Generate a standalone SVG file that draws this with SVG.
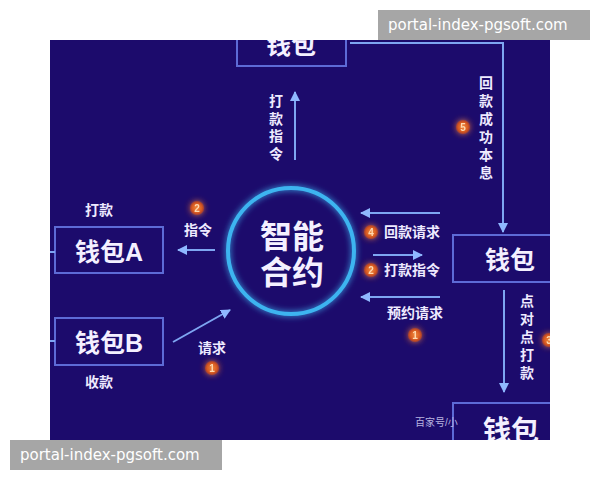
<svg xmlns="http://www.w3.org/2000/svg" width="600" height="480" viewBox="0 0 600 480">
<defs>
<style>
.bg{fill:#1c0b6c}
.box{fill:none;stroke:#5d6bd6;stroke-width:2}
.big{font-family:"Liberation Sans","Noto Sans CJK SC",sans-serif;fill:#f4f0ff;font-size:25px;font-weight:bold;text-anchor:middle}
.lbl{font-family:"Liberation Sans","Noto Sans CJK SC",sans-serif;fill:#eeeaff;font-size:14px;font-weight:bold;text-anchor:middle}
.lblL{font-family:"Liberation Sans","Noto Sans CJK SC",sans-serif;fill:#eeeaff;font-size:14px;font-weight:bold}
.vt{font-family:"Liberation Sans","Noto Sans CJK SC",sans-serif;fill:#eeeaff;font-size:14px;font-weight:bold;text-anchor:middle}
.arr{stroke:#7ea6f2;stroke-width:2;fill:none;marker-end:url(#ah)}
.ln{stroke:#7ea6f2;stroke-width:2;fill:none}
.bd{fill:url(#bg1)}
.bn{font-family:"Liberation Sans",sans-serif;font-size:10px;font-weight:bold;fill:#ffd9b0;text-anchor:middle}
.wm{fill:#a6a6a6}
.wmt{font-family:"DejaVu Sans","Liberation Sans",sans-serif;font-size:15px;fill:#ffffff}
</style>
<marker id="ah" viewBox="0 0 10 10" refX="9" refY="5" markerWidth="5" markerHeight="5" orient="auto">
<path d="M0,0 L10,5 L0,10 z" fill="#8fb8ff"/>
</marker>
<radialGradient id="bg1">
<stop offset="0" stop-color="#f08a40"/>
<stop offset="0.7" stop-color="#d85a20"/>
<stop offset="1" stop-color="#a03a30"/>
</radialGradient>
<filter id="glow" x="-30%" y="-30%" width="160%" height="160%">
<feGaussianBlur stdDeviation="3" result="b"/>
<feMerge><feMergeNode in="b"/><feMergeNode in="SourceGraphic"/></feMerge>
</filter>
<clipPath id="clip"><rect x="50" y="40" width="500" height="400"/></clipPath>
</defs>
<rect width="600" height="480" fill="#ffffff"/>
<rect class="bg" x="50" y="40" width="500" height="400"/>
<g clip-path="url(#clip)">
<g id="contract">
<circle cx="291" cy="251" r="63" fill="none" stroke="#3cb4f0" stroke-width="4" filter="url(#glow)"/>
<text class="big" x="292" y="248" style="font-size:32px">智能</text>
<text class="big" x="292" y="284" style="font-size:32px">合约</text>
</g>
<g id="wallet-top">
<rect class="box" x="237" y="20" width="109" height="46"/>
<text class="big" x="291" y="54">钱包</text>
</g>
<g id="wallet-a">
<rect class="box" x="55" y="227" width="108" height="46"/>
<text class="big" x="109" y="261">钱包A</text>
</g>
<g id="wallet-b">
<rect class="box" x="55" y="318" width="108" height="47"/>
<text class="big" x="109" y="352">钱包B</text>
</g>
<g id="wallet-right">
<rect class="box" x="453" y="235" width="110" height="47"/>
<text class="big" x="510" y="269">钱包</text>
</g>
<g id="wallet-bottom">
<rect class="box" x="453" y="403" width="110" height="60"/>
<text x="415" y="426" font-family="Liberation Sans,Noto Sans CJK SC,sans-serif" font-size="10" fill="#b8b4e0">百家号/小</text>
<text class="big" x="511" y="441" style="font-size:28px">钱包</text>
</g>
<g id="connectors">
<line class="arr" x1="295" y1="160" x2="295" y2="92"/>
<polyline class="arr" points="350,43 503,43 503,232"/>
<line class="arr" x1="215" y1="250" x2="178" y2="250"/>
<line class="ln" x1="50" y1="252" x2="55" y2="252"/>
<line class="ln" x1="50" y1="341" x2="55" y2="341"/>
<line class="arr" x1="173" y1="342" x2="230" y2="310"/>
<line class="arr" x1="440" y1="213" x2="361" y2="213"/>
<line class="arr" x1="373" y1="255" x2="422" y2="255"/>
<line class="arr" x1="440" y1="297" x2="361" y2="297"/>
<line class="arr" x1="504" y1="290" x2="504" y2="392"/>
</g>
<g id="labels">
<text class="vt"><tspan x="276" y="106">打</tspan><tspan x="276" y="123.5">款</tspan><tspan x="276" y="141">指</tspan><tspan x="276" y="158.5">令</tspan></text>
<text class="vt"><tspan x="486" y="88">回</tspan><tspan x="486" y="106">款</tspan><tspan x="486" y="124">成</tspan><tspan x="486" y="142">功</tspan><tspan x="486" y="160">本</tspan><tspan x="486" y="178">息</tspan></text>
<text class="vt"><tspan x="527" y="306">点</tspan><tspan x="527" y="324">对</tspan><tspan x="527" y="342">点</tspan><tspan x="527" y="360">打</tspan><tspan x="527" y="378">款</tspan></text>
<text class="lbl" x="99" y="215">打款</text>
<text class="lbl" x="99" y="387">收款</text>
<text class="lbl" x="198" y="235">指令</text>
<text class="lbl" x="212" y="353">请求</text>
<text class="lblL" x="384" y="237">回款请求</text>
<text class="lblL" x="384" y="275">打款指令</text>
<text class="lblL" x="387" y="318">预约请求</text>
</g>
<g id="badges" filter="url(#glow)">
<circle class="bd" cx="197" cy="208" r="7"/><text class="bn" x="197" y="212">2</text>
<circle class="bd" cx="212" cy="368" r="7"/><text class="bn" x="212" y="372">1</text>
<circle class="bd" cx="463" cy="127" r="7"/><text class="bn" x="463" y="131">5</text>
<circle class="bd" cx="371" cy="232" r="7"/><text class="bn" x="371" y="236">4</text>
<circle class="bd" cx="371" cy="270" r="7"/><text class="bn" x="371" y="274">2</text>
<circle class="bd" cx="415" cy="335" r="7"/><text class="bn" x="415" y="339">1</text>
<circle class="bd" cx="549" cy="340" r="7"/><text class="bn" x="549" y="344">3</text>
</g>
</g>
<g id="watermarks">
<rect class="wm" x="378" y="10" width="212" height="30"/>
<text class="wmt" x="388" y="30">portal-index-pgsoft.com</text>
<rect class="wm" x="10" y="440" width="212" height="30"/>
<text class="wmt" x="20" y="460">portal-index-pgsoft.com</text>
</g>
</svg>
